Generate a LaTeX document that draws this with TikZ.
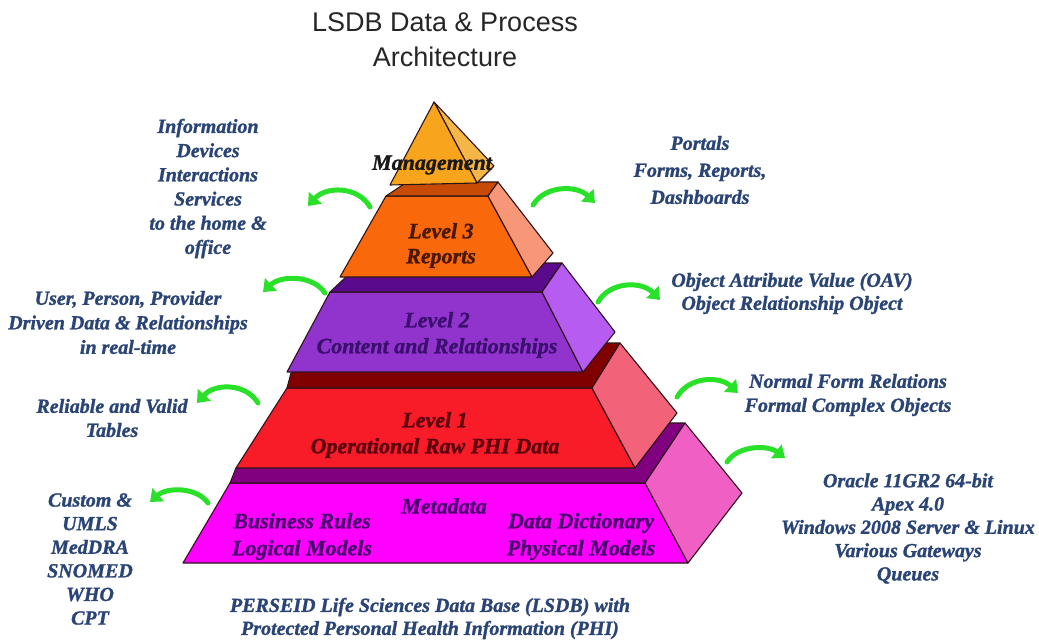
\documentclass[tikz,border=0pt]{standalone}
\usepackage{fontspec}
\setmainfont{Liberation Serif}[BoldItalicFeatures={FakeBold=1.2}]
\newfontfamily\titlefont{Liberation Sans}
\usetikzlibrary{arrows.meta}
\definecolor{bluetxt}{RGB}{42,68,118}
\definecolor{edge}{RGB}{45,20,25}
\definecolor{grn}{RGB}{40,225,40}
\definecolor{lthreeF}{RGB}{250,104,12}
\definecolor{lthreeT}{RGB}{200,75,5}
\definecolor{lthreeR}{RGB}{248,150,120}
\definecolor{ltwoF}{RGB}{145,52,205}
\definecolor{ltwoT}{RGB}{90,10,140}
\definecolor{ltwoR}{RGB}{182,92,240}
\definecolor{loneF}{RGB}{248,28,40}
\definecolor{loneT}{RGB}{128,0,0}
\definecolor{loneR}{RGB}{242,98,120}
\definecolor{metaF}{RGB}{255,0,255}
\definecolor{metaT}{RGB}{128,0,128}
\definecolor{metaR}{RGB}{240,96,196}
\definecolor{pyrF}{RGB}{248,164,28}
\definecolor{pyrS}{RGB}{244,182,70}
\definecolor{lthreeTxt}{RGB}{74,24,0}
\definecolor{ltwoTxt}{RGB}{59,15,110}
\definecolor{loneTxt}{RGB}{92,0,16}
\definecolor{metaTxt}{RGB}{75,0,112}
\tikzset{
  face/.style={draw=edge, line width=1.1pt, line join=round},
  bluetext/.style={text=bluetxt, align=center, inner sep=0pt,
    font=\fontsize{20}{24}\selectfont\bfseries\itshape},
  innertext/.style={align=center, inner sep=0pt,
    font=\fontsize{22}{26}\selectfont\bfseries\itshape},
  garrow/.style={draw=grn, line width=5pt, line cap=round,
    -{Triangle[length=11pt,width=17pt]}},
}
\begin{document}
\begin{tikzpicture}[x=1pt,y=-1pt]
\useasboundingbox (0,0) rectangle (1039,642);
\fill[white] (0,0) rectangle (1039,642);

% Title
\node[align=center, inner sep=0pt, text=black!85,
  font=\fontsize{27}{35}\selectfont\titlefont] (title) at (445,39.5)
  {LSDB Data \& Process\\Architecture};

% Metadata level
\path[face, fill=metaF] (230,483) -- (645,483) -- (688,563) -- (183,563) -- cycle;
\path[face, fill=metaT] (230,483) -- (645,483) -- (685,423) -- (400,423) -- (236,468) -- cycle;
\path[face, fill=metaR] (645,483) -- (685,423) -- (742,493) -- (688,563) -- cycle;

% Level 1
\path[face, fill=loneF] (287,388) -- (592,388) -- (635,468) -- (236,468) -- cycle;
\path[face, fill=loneT] (287,388) -- (592,388) -- (620,343) -- (400,343) -- (291,373) -- cycle;
\path[face, fill=loneR] (592,388) -- (620,343) -- (677,413) -- (635,468) -- cycle;

% Level 2
\path[face, fill=ltwoF] (330,292) -- (542,292) -- (583,372) -- (287,372) -- cycle;
\path[face, fill=ltwoT] (330,292) -- (542,292) -- (562,263) -- (420,263) -- (346,277) -- cycle;
\path[face, fill=ltwoR] (542,292) -- (562,263) -- (615,332) -- (583,372) -- cycle;

% Level 3
\path[face, fill=lthreeF] (386,196) -- (488,196) -- (532,277) -- (340,277) -- cycle;
\path[face, fill=lthreeT] (386,196) -- (488,196) -- (498,182) -- (407,182) -- cycle;
\path[face, fill=lthreeR] (488,196) -- (498,182) -- (553,253) -- (532,277) -- cycle;

% Management pyramid
\path[face, fill=pyrS] (434,102) -- (477,183) -- (494,166) -- cycle;
\path[face, fill=pyrF] (434,102) -- (390,185) -- (477,183) -- cycle;

% Labels inside the pyramid
\node[innertext, text=black!90] (mgmt) at (432,165) {Management};
\node[innertext, text=lthreeTxt, font=\fontsize{22}{25}\selectfont\bfseries\itshape] (l3) at (441,245.5) {Level 3\\Reports};
\node[innertext, text=ltwoTxt] (l2) at (437,335) {Level 2\\Content and Relationships};
\node[innertext, text=loneTxt] (l1) at (435,435) {Level 1\\Operational Raw PHI Data};
\node[innertext, text=metaTxt] (meta) at (444,506) {Metadata};
\node[innertext, text=metaTxt, font=\fontsize{22}{27}\selectfont\bfseries\itshape] (bus) at (302,536.5) {Business Rules\\Logical Models};
\node[innertext, text=metaTxt, font=\fontsize{22}{27}\selectfont\bfseries\itshape] (dict) at (581,536.5) {Data Dictionary\\Physical Models};

% Side texts
\node[bluetext, font=\fontsize{20}{24.2}\selectfont\bfseries\itshape] (info) at (208,188.5)
  {Information\\Devices\\Interactions\\Services\\to the home \&\\office};
\node[bluetext, font=\fontsize{20}{27}\selectfont\bfseries\itshape] (portals) at (700,170)
  {Portals\\Forms, Reports,\\Dashboards};
\node[bluetext, font=\fontsize{20}{23}\selectfont\bfseries\itshape] (oav) at (792,293.5)
  {Object Attribute Value (OAV)\\Object Relationship Object};
\node[bluetext, font=\fontsize{20}{24.5}\selectfont\bfseries\itshape] (user) at (128,322.5)
  {User, Person, Provider\\Driven Data \& Relationships\\in real-time};
\node[bluetext] (reliable) at (112,418) {Reliable and Valid\\Tables};
\node[bluetext] (normal) at (848,395) {Normal Form Relations\\Formal Complex Objects};
\node[bluetext, font=\fontsize{20}{23.6}\selectfont\bfseries\itshape] (custom) at (90,559)
  {Custom \&\\UMLS\\MedDRA\\SNOMED\\WHO\\CPT};
\node[bluetext, font=\fontsize{20}{23.3}\selectfont\bfseries\itshape] (oracle) at (908,528.5)
  {Oracle 11GR2 64-bit\\Apex 4.0\\Windows 2008 Server \& Linux\\Various Gateways\\Queues};
\node[bluetext, font=\fontsize{20}{23}\selectfont\bfseries\itshape] (perseid) at (430,618.5)
  {PERSEID Life Sciences Data Base (LSDB) with\\Protected Personal Health Information (PHI)};

% Green arrows
\coordinate (a1s) at (370,207); \coordinate (a1t) at (308,206);
\coordinate (a2s) at (325,293); \coordinate (a2t) at (263,292);
\coordinate (a3s) at (258,403); \coordinate (a3t) at (197,403);
\coordinate (a4s) at (208,503); \coordinate (a4t) at (150,502);
\coordinate (a5s) at (533,205); \coordinate (a5t) at (595,203);
\coordinate (a6s) at (598,302); \coordinate (a6t) at (660,300);
\coordinate (a7s) at (677,397); \coordinate (a7t) at (738,393);
\coordinate (a8s) at (727,462); \coordinate (a8t) at (785,458);
\draw[garrow] (a1s) .. controls (358,186) and (326,186) .. (a1t);
\draw[garrow] (a2s) .. controls (313,275) and (281,275) .. (a2t);
\draw[garrow] (a3s) .. controls (246,383) and (215,383) .. (a3t);
\draw[garrow] (a4s) .. controls (197,487) and (167,487) .. (a4t);
\draw[garrow] (a5s) .. controls (545,185) and (577,185) .. (a5t);
\draw[garrow] (a6s) .. controls (610,281) and (642,281) .. (a6t);
\draw[garrow] (a7s) .. controls (689,376) and (720,376) .. (a7t);
\draw[garrow] (a8s) .. controls (738,445) and (768,445) .. (a8t);
\end{tikzpicture}
\end{document}
